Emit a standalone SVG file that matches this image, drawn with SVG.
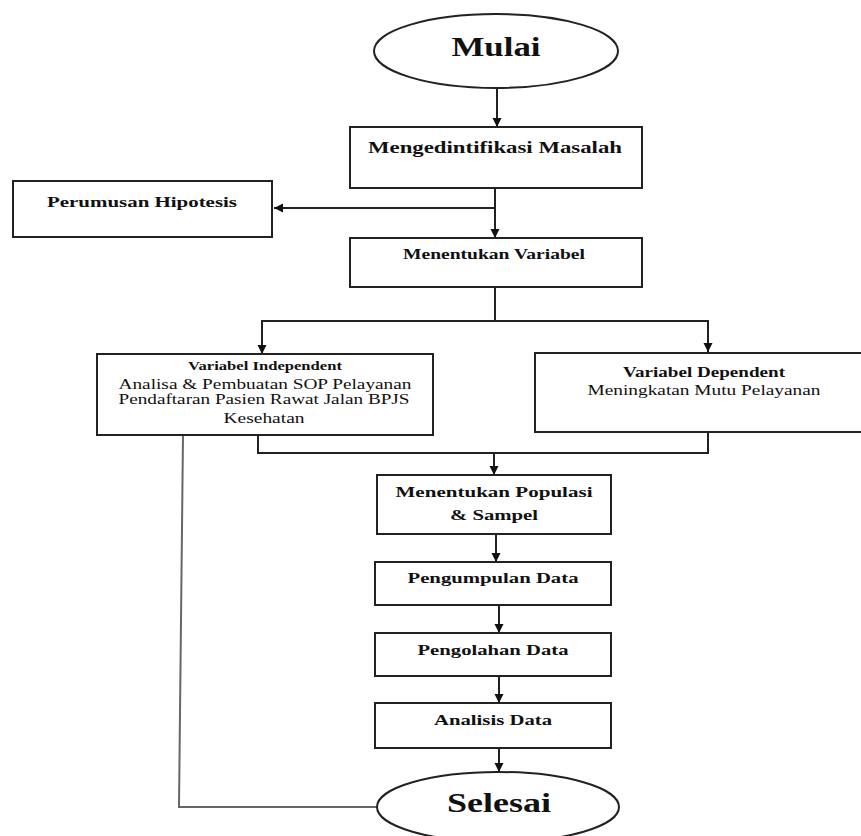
<svg xmlns="http://www.w3.org/2000/svg" width="861" height="836" viewBox="0 0 861 836">
<style>
.box{fill:#fff;stroke:#222;stroke-width:2}
.ell{fill:#fff;stroke:#222;stroke-width:2}
.t{font-family:"Liberation Serif","Times New Roman",serif;fill:#111;text-anchor:middle}
.b{font-weight:bold}
.c{fill:none;stroke:#222;stroke-width:2}
.g{fill:none;stroke:#666;stroke-width:2}
</style>
<defs>
<marker id="ah" markerUnits="userSpaceOnUse" markerWidth="10" markerHeight="10" refX="9" refY="4.5" orient="auto">
<path d="M0,0 L9,4.5 L0,9 z" fill="#111"/>
</marker>
</defs>
<rect width="861" height="836" fill="#fff"/>
<g id="connectors">
<line class="c" x1="497" y1="89" x2="497" y2="127" marker-end="url(#ah)"/>
<line class="c" x1="495" y1="188" x2="495" y2="238" marker-end="url(#ah)"/>
<line class="c" x1="495" y1="208" x2="274" y2="208" marker-end="url(#ah)"/>
<polyline class="c" points="495,287 495,321"/>
<polyline class="c" points="262,354 262,321 708,321 708,352" marker-end="url(#ah)"/>
<line class="c" x1="262" y1="321" x2="262" y2="354" marker-end="url(#ah)"/>
<polyline class="c" points="258,435 258,453 708,453 708,432"/>
<line class="c" x1="494" y1="453" x2="494" y2="475" marker-end="url(#ah)"/>
<line class="c" x1="496" y1="534" x2="496" y2="562" marker-end="url(#ah)"/>
<line class="c" x1="499" y1="605" x2="499" y2="633" marker-end="url(#ah)"/>
<line class="c" x1="499" y1="676" x2="499" y2="703" marker-end="url(#ah)"/>
<line class="c" x1="499" y1="748" x2="499" y2="772" marker-end="url(#ah)"/>
<polyline class="g" points="183,435 179,807 377,807"/>
</g>
<g id="mulai">
<ellipse class="ell" cx="496" cy="51" rx="122" ry="37"/>
<text class="t b" x="496" y="56" font-size="28" textLength="89" lengthAdjust="spacingAndGlyphs">Mulai</text>
</g>
<g id="identifikasi">
<rect class="box" x="350" y="127" width="292" height="61"/>
<text class="t b" x="495" y="153" font-size="17" textLength="254" lengthAdjust="spacingAndGlyphs">Mengedintifikasi Masalah</text>
</g>
<g id="hipotesis">
<rect class="box" x="13" y="181" width="259" height="56"/>
<text class="t b" x="142" y="207" font-size="15" textLength="190" lengthAdjust="spacingAndGlyphs">Perumusan  Hipotesis</text>
</g>
<g id="variabel">
<rect class="box" x="350" y="238" width="292" height="49"/>
<text class="t b" x="494" y="259" font-size="14" textLength="182" lengthAdjust="spacingAndGlyphs">Menentukan Variabel</text>
</g>
<g id="independent">
<rect class="box" x="97" y="354" width="336" height="81"/>
<text class="t b" x="265" y="370" font-size="12" textLength="154" lengthAdjust="spacingAndGlyphs">Variabel Independent</text>
<text class="t" x="265" y="389" font-size="15" textLength="293" lengthAdjust="spacingAndGlyphs">Analisa &amp; Pembuatan SOP Pelayanan</text>
<text class="t" x="264" y="404" font-size="15" textLength="291" lengthAdjust="spacingAndGlyphs">Pendaftaran Pasien Rawat Jalan BPJS</text>
<text class="t" x="264" y="423" font-size="15" textLength="81" lengthAdjust="spacingAndGlyphs">Kesehatan</text>
</g>
<g id="dependent">
<rect class="box" x="535" y="353" width="330" height="79"/>
<text class="t b" x="704" y="377" font-size="15" textLength="162" lengthAdjust="spacingAndGlyphs">Variabel Dependent</text>
<text class="t" x="704" y="395" font-size="14" textLength="233" lengthAdjust="spacingAndGlyphs">Meningkatan Mutu Pelayanan</text>
</g>
<g id="populasi">
<rect class="box" x="377" y="475" width="234" height="59"/>
<text class="t b" x="494" y="497" font-size="15" textLength="197" lengthAdjust="spacingAndGlyphs">Menentukan Populasi</text>
<text class="t b" x="494" y="520" font-size="15" textLength="88" lengthAdjust="spacingAndGlyphs">&amp; Sampel</text>
</g>
<g id="pengumpulan">
<rect class="box" x="375" y="562" width="236" height="43"/>
<text class="t b" x="493" y="583" font-size="15" textLength="171" lengthAdjust="spacingAndGlyphs">Pengumpulan Data</text>
</g>
<g id="pengolahan">
<rect class="box" x="375" y="633" width="236" height="43"/>
<text class="t b" x="493" y="655" font-size="15" textLength="151" lengthAdjust="spacingAndGlyphs">Pengolahan Data</text>
</g>
<g id="analisis">
<rect class="box" x="375" y="703" width="236" height="45"/>
<text class="t b" x="493" y="725" font-size="14" textLength="118" lengthAdjust="spacingAndGlyphs">Analisis Data</text>
</g>
<g id="selesai">
<ellipse class="ell" cx="498" cy="807" rx="121" ry="35"/>
<text class="t b" x="499" y="812" font-size="28" textLength="104" lengthAdjust="spacingAndGlyphs">Selesai</text>
</g>
</svg>
